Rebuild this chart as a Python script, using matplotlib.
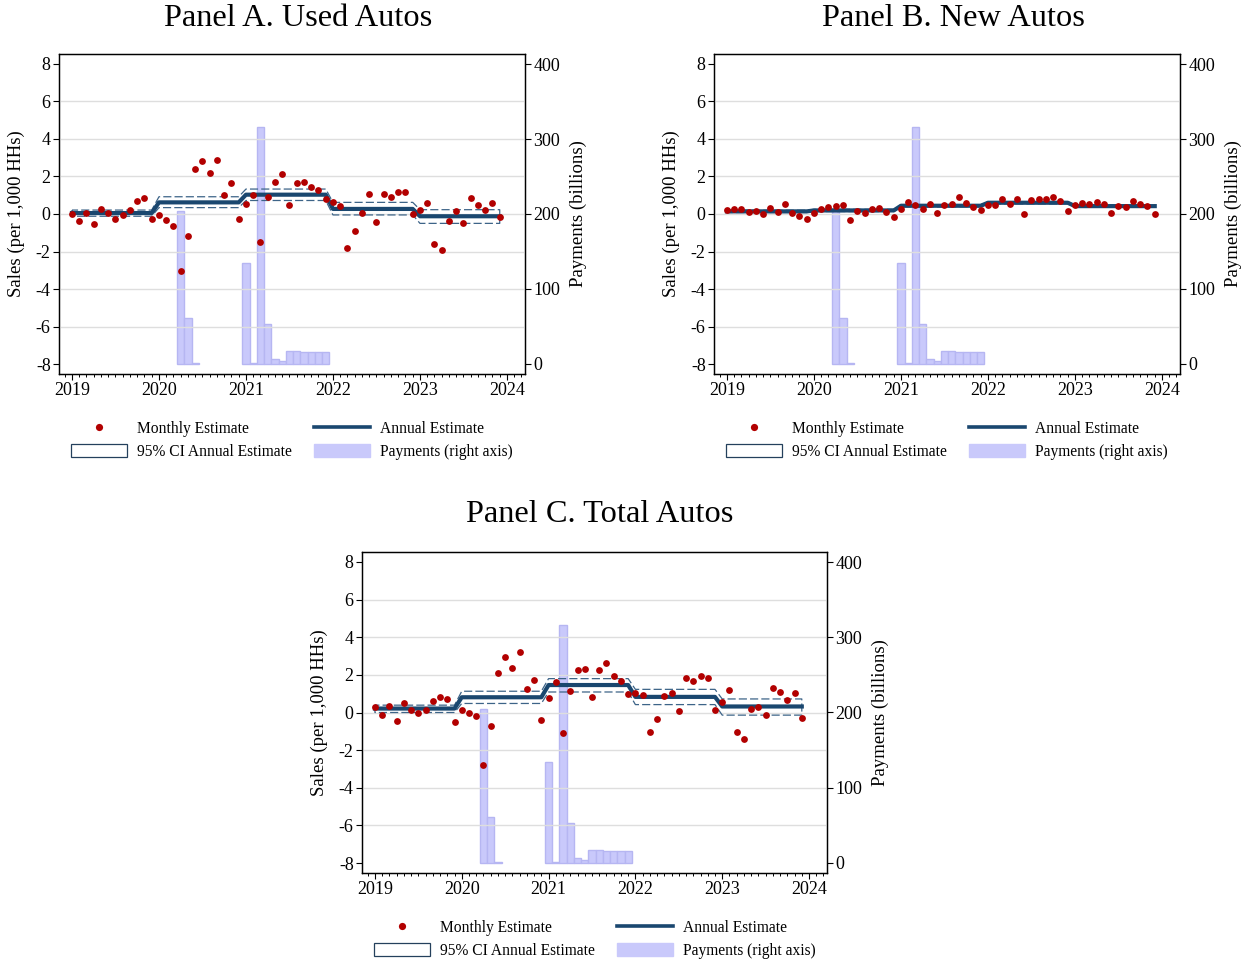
"""
Auto sales response to stimulus payments: monthly and annual estimates
with 95% CI, payments on the right axis. Three panels (used / new / total).
"""

import matplotlib.pyplot as plt
import matplotlib.ticker as mticker
from matplotlib.lines import Line2D
from matplotlib.patches import Patch
import numpy as np

plt.rcParams["font.family"] = ["Liberation Serif", "DejaVu Serif"]
plt.rcParams["axes.unicode_minus"] = False

# ---- data -----------------------------------------------------------------
START_YEAR = 2019
YEARS = [2019, 2020, 2021, 2022, 2023]

# payments (billions), month index counted from Jan 2019
PAY_MONTHS = [15, 16, 17, 24, 25, 26, 27, 28, 29, 30, 31, 32, 33, 34, 35]
PAY_VALUES = [204, 61, 1, 134, 0.6, 316, 53, 6.5, 3.5, 17, 17, 16, 16, 16, 16]

used_monthly = [
    0.00, -0.37, 0.04, -0.55, 0.25, 0.05, -0.25, -0.05, 0.19, 0.69, 0.87, -0.27,
    -0.05, -0.34, -0.62, -3.06, -1.15, 2.42, 2.85, 2.21, 2.87, 0.99, 1.63, -0.25,
    0.55, 1.01, -1.49, 0.90, 1.70, 2.14, 0.50, 1.65, 1.73, 1.43, 1.29, 0.78,
    0.64, 0.42, -1.81, -0.88, 0.04, 1.06, -0.44, 1.06, 0.90, 1.19, 1.15, 0.02,
    0.21, 0.58, -1.58, -1.91, -0.37, 0.18, -0.50, 0.85, 0.50, 0.21, 0.57, -0.18,
]
used_annual = [0.05, 0.62, 1.03, 0.27, -0.12]
used_lo = [-0.12, 0.34, 0.72, -0.05, -0.50]
used_hi = [0.21, 0.92, 1.33, 0.62, 0.23]

new_monthly = [
    0.21, 0.27, 0.25, 0.09, 0.18, 0.00, 0.30, 0.09, 0.53, 0.07, -0.11, -0.25,
    0.07, 0.25, 0.37, 0.44, 0.46, -0.32, 0.16, 0.04, 0.27, 0.32, 0.09, -0.16,
    0.27, 0.62, 0.46, 0.25, 0.53, 0.05, 0.48, 0.55, 0.90, 0.60, 0.37, 0.21,
    0.46, 0.50, 0.81, 0.53, 0.78, -0.02, 0.73, 0.78, 0.80, 0.88, 0.71, 0.18,
    0.46, 0.58, 0.53, 0.62, 0.53, 0.04, 0.41, 0.39, 0.71, 0.53, 0.41, 0.00,
]
new_annual = [0.14, 0.19, 0.44, 0.60, 0.42]
new_lo = [0.08, 0.13, 0.38, 0.54, 0.36]
new_hi = [0.20, 0.25, 0.50, 0.66, 0.48]

total_monthly = [
    0.28, -0.11, 0.32, -0.44, 0.48, 0.14, -0.04, 0.14, 0.60, 0.83, 0.74, -0.49,
    0.12, -0.05, -0.19, -2.80, -0.72, 2.10, 2.96, 2.38, 3.23, 1.27, 1.75, -0.39,
    0.79, 1.64, -1.11, 1.13, 2.28, 2.33, 0.85, 2.24, 2.63, 1.94, 1.68, 0.97,
    1.04, 0.95, -1.06, -0.35, 0.88, 1.02, 0.09, 1.83, 1.66, 1.92, 1.85, 0.12,
    0.58, 1.18, -1.06, -1.39, 0.18, 0.28, -0.12, 1.29, 1.08, 0.65, 1.06, -0.28,
]
total_annual = [0.21, 0.81, 1.46, 0.83, 0.32]
total_lo = [0.00, 0.48, 1.09, 0.42, -0.14]
total_hi = [0.39, 1.13, 1.80, 1.23, 0.72]

PANELS = [
    ("Panel A. Used Autos", used_monthly, used_annual, used_lo, used_hi),
    ("Panel B. New Autos", new_monthly, new_annual, new_lo, new_hi),
    ("Panel C. Total Autos", total_monthly, total_annual, total_lo, total_hi),
]

# ---- style -----------------------------------------------------------------
RED = "#b20000"
NAVY = "#1a476f"
CI_COL = "#3d6488"
BAR_FACE = "#c9c9fb"
BAR_EDGE = "#b6b6f2"
GRID = "#dedede"

# axes boxes in pixels: left, top, right, bottom (figure 1254 x 961)
W, H = 1254, 961
BOXES = [(59, 54, 525, 374), (714, 54, 1180, 374), (362, 552, 827, 873)]
TITLE_POS = [(298, 18), (953, 18), (600, 515)]


def draw_panel(fig, box, title_xy, title, monthly, annual, lo, hi):
    l, t, r, b = box
    ax = fig.add_axes([l / W, 1 - b / H, (r - l) / W, (b - t) / H])
    ax2 = ax.twinx()
    ax.set_zorder(ax2.get_zorder() + 1)
    ax.patch.set_visible(False)

    months = START_YEAR + np.arange(len(monthly)) / 12
    annual_m = np.repeat(annual, 12)
    lo_m = np.repeat(lo, 12)
    hi_m = np.repeat(hi, 12)

    # payments on right axis
    pay_x = START_YEAR + np.array(PAY_MONTHS) / 12
    ax2.bar(pay_x, PAY_VALUES, width=1 / 12, color=BAR_FACE,
            edgecolor=BAR_EDGE, linewidth=1, zorder=1)
    ax2.set_ylim(-13.75, 413.75)
    ax2.set_yticks([0, 100, 200, 300, 400])
    ax2.tick_params(axis="y", labelsize=13, length=4, width=0.8, pad=2)
    ax2.set_ylabel("Payments (billions)", fontsize=13.5, rotation=90)
    ax2.yaxis.set_label_coords(1 + 45 / (r - l), 0.5)

    # grid
    for v in range(-6, 7, 2):
        ax.axhline(v, color=GRID, lw=1, zorder=0)

    # CI outline, annual line, monthly dots
    ax.fill_between(months, lo_m, hi_m, facecolor="none", edgecolor=CI_COL,
                    linestyle=(0, (6.5, 2.5)), linewidth=0.9, zorder=2)
    ax.plot(months, annual_m, color=NAVY, lw=3, zorder=3,
            solid_joinstyle="round")
    ax.scatter(months, monthly, s=24, color=RED, linewidths=0, zorder=4)

    ax.set_xlim(2018.851, 2024.207)
    ax.set_ylim(-8.53, 8.53)
    ax.set_yticks(range(-8, 9, 2))
    ax.set_xticks(range(2019, 2025))
    ax.xaxis.set_minor_locator(mticker.MultipleLocator(1 / 12))
    ax.tick_params(axis="both", which="major", labelsize=13, length=4,
                   width=0.8, pad=2)
    ax.tick_params(axis="x", which="minor", length=2.2, width=0.7)
    ax.set_ylabel("Sales (per 1,000 HHs)", fontsize=13.5)
    ax.yaxis.set_label_coords(-34 / (r - l), 0.5)

    for a in (ax, ax2):
        for s in a.spines.values():
            s.set_linewidth(0.9)

    fig.text(title_xy[0] / W, 1 - title_xy[1] / H, title, fontsize=23.3,
             ha="center", va="center")

    handles = [
        Line2D([], [], marker="o", linestyle="none", markerfacecolor=RED,
               markeredgewidth=0, markersize=5.2),
        Patch(facecolor="white", edgecolor="#24405c", linewidth=0.9),
        Line2D([], [], color=NAVY, lw=2.6),
        Patch(facecolor=BAR_FACE, edgecolor=BAR_FACE),
    ]
    labels = ["Monthly Estimate", "95% CI Annual Estimate",
              "Annual Estimate", "Payments (right axis)"]
    ax.legend(handles, labels, loc="upper center",
              bbox_to_anchor=(0.5, -0.102), ncol=2, frameon=False,
              fontsize=11.2, handlelength=3.6, handleheight=0.9,
              handletextpad=0.65, columnspacing=1.4, labelspacing=0.45)
    return ax


def main():
    fig = plt.figure(figsize=(W / 100, H / 100), dpi=100)
    for box, txy, (title, monthly, annual, lo, hi) in zip(BOXES, TITLE_POS, PANELS):
        draw_panel(fig, box, txy, title, monthly, annual, lo, hi)
    fig.savefig("out.png", dpi=100)
    plt.close(fig)


if __name__ == "__main__":
    main()
